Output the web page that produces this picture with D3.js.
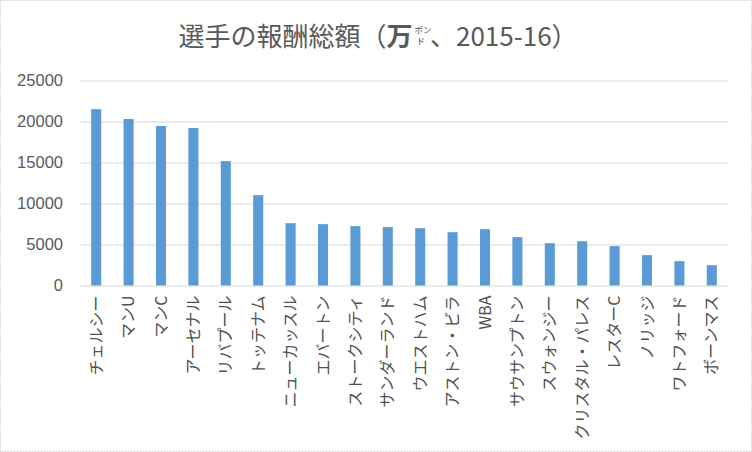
<!DOCTYPE html>
<html>
<head>
<meta charset="utf-8">
<script src="https://cdn.jsdelivr.net/npm/d3@7"></script>
<style>
  body { margin: 0; background: #fff; }
</style>
</head>
<body>
<div id="grafico"></div>
<script>
const equipos = ["チェルシー", "マンU", "マンC", "アーセナル", "リバプール", "トッテナム",
  "ニューカッスル", "エバートン", "ストークシティ", "サンダーランド", "ウエストハム",
  "アストン・ビラ", "WBA", "サウサンプトン", "スウォンジー", "クリスタル・パレス",
  "レスターC", "ノリッジ", "ワトフォード", "ボーンマス"];
const salarios = [21500, 20300, 19450, 19200, 15170, 11020, 7600, 7480, 7240, 7120,
  6990, 6500, 6870, 5900, 5160, 5400, 4800, 3700, 2970, 2480];
const ticksY = [0, 5000, 10000, 15000, 20000, 25000];

const ancho = 752;
const alto = 452;
const margen = { top: 80.5, right: 24, bottom: 166.5, left: 80 };
const colorTexto = "#595959";
const colorBarra = "#5B9BD5";

function graficar() {
  const svg = d3.select("#grafico")
    .append("svg")
    .attr("width", ancho)
    .attr("height", alto);

  // marco exterior
  svg.append("rect")
    .attr("x", 0.5).attr("y", 0.5)
    .attr("width", ancho - 1).attr("height", alto - 1)
    .attr("fill", "#fff")
    .attr("stroke", "#d9d9d9")
    .attr("stroke-dasharray", "2,1");

  const x = d3.scaleBand()
    .domain(equipos)
    .range([margen.left, ancho - margen.right])
    .paddingInner(0.69)
    .paddingOuter(0.345);

  const y = d3.scaleLinear()
    .domain([0, 25000])
    .range([alto - margen.bottom, margen.top]);

  // lineas de la grilla
  const ejeY = svg.append("g")
    .attr("transform", `translate(${margen.left},0)`)
    .call(d3.axisLeft(y)
      .tickValues(ticksY)
      .tickSize(-(ancho - margen.left - margen.right))
      .tickPadding(17)
      .tickFormat(d3.format("d")));
  ejeY.select(".domain").remove();
  ejeY.selectAll(".tick line")
    .attr("stroke", "#d9d9d9")
    .attr("stroke-width", 1);
  ejeY.selectAll(".tick text")
    .attr("fill", colorTexto)
    .attr("font-family", "'Liberation Sans', Arial, sans-serif")
    .attr("font-size", 16.5);

  // barras
  svg.selectAll("rect.barra")
    .data(salarios)
    .enter().append("rect")
    .attr("class", "barra")
    .attr("x", (d, i) => x(equipos[i]))
    .attr("y", d => y(d))
    .attr("width", x.bandwidth())
    .attr("height", d => y(0) - y(d))
    .attr("fill", colorBarra);

  // etiquetas del eje X (verticales)
  const ejeX = svg.append("g")
    .attr("transform", `translate(0,${y(0)})`)
    .call(d3.axisBottom(x).tickSize(0).tickPadding(0));
  ejeX.select(".domain").remove();
  ejeX.selectAll(".tick text")
    .attr("transform", "rotate(-90)")
    .attr("x", -10)
    .attr("y", 0)
    .attr("dy", "0.35em")
    .attr("text-anchor", "end")
    .attr("fill", "#505050")
    .attr("font-family", "'Noto Sans CJK JP', sans-serif")
    .attr("font-size", 16);

  // titulo
  const titulo = svg.append("text")
    .attr("x", ancho / 2 + 2)
    .attr("y", 46)
    .attr("text-anchor", "middle")
    .attr("fill", colorTexto)
    .attr("font-family", "'Noto Sans CJK JP', sans-serif")
    .attr("font-size", 26);
  titulo.append("tspan").text("選手の報酬総額（");
  titulo.append("tspan").attr("font-weight", "bold").text("万");
  titulo.append("tspan").attr("font-size", 8.5).attr("dx", 2).attr("dy", -13).text("ポン");
  titulo.append("tspan").attr("font-size", 8.5).attr("dx", -15).attr("dy", 11).text("ド");
  titulo.append("tspan").attr("dx", 5).attr("dy", 2).text("、2015-16）");
}

graficar();
</script>
</body>
</html>
